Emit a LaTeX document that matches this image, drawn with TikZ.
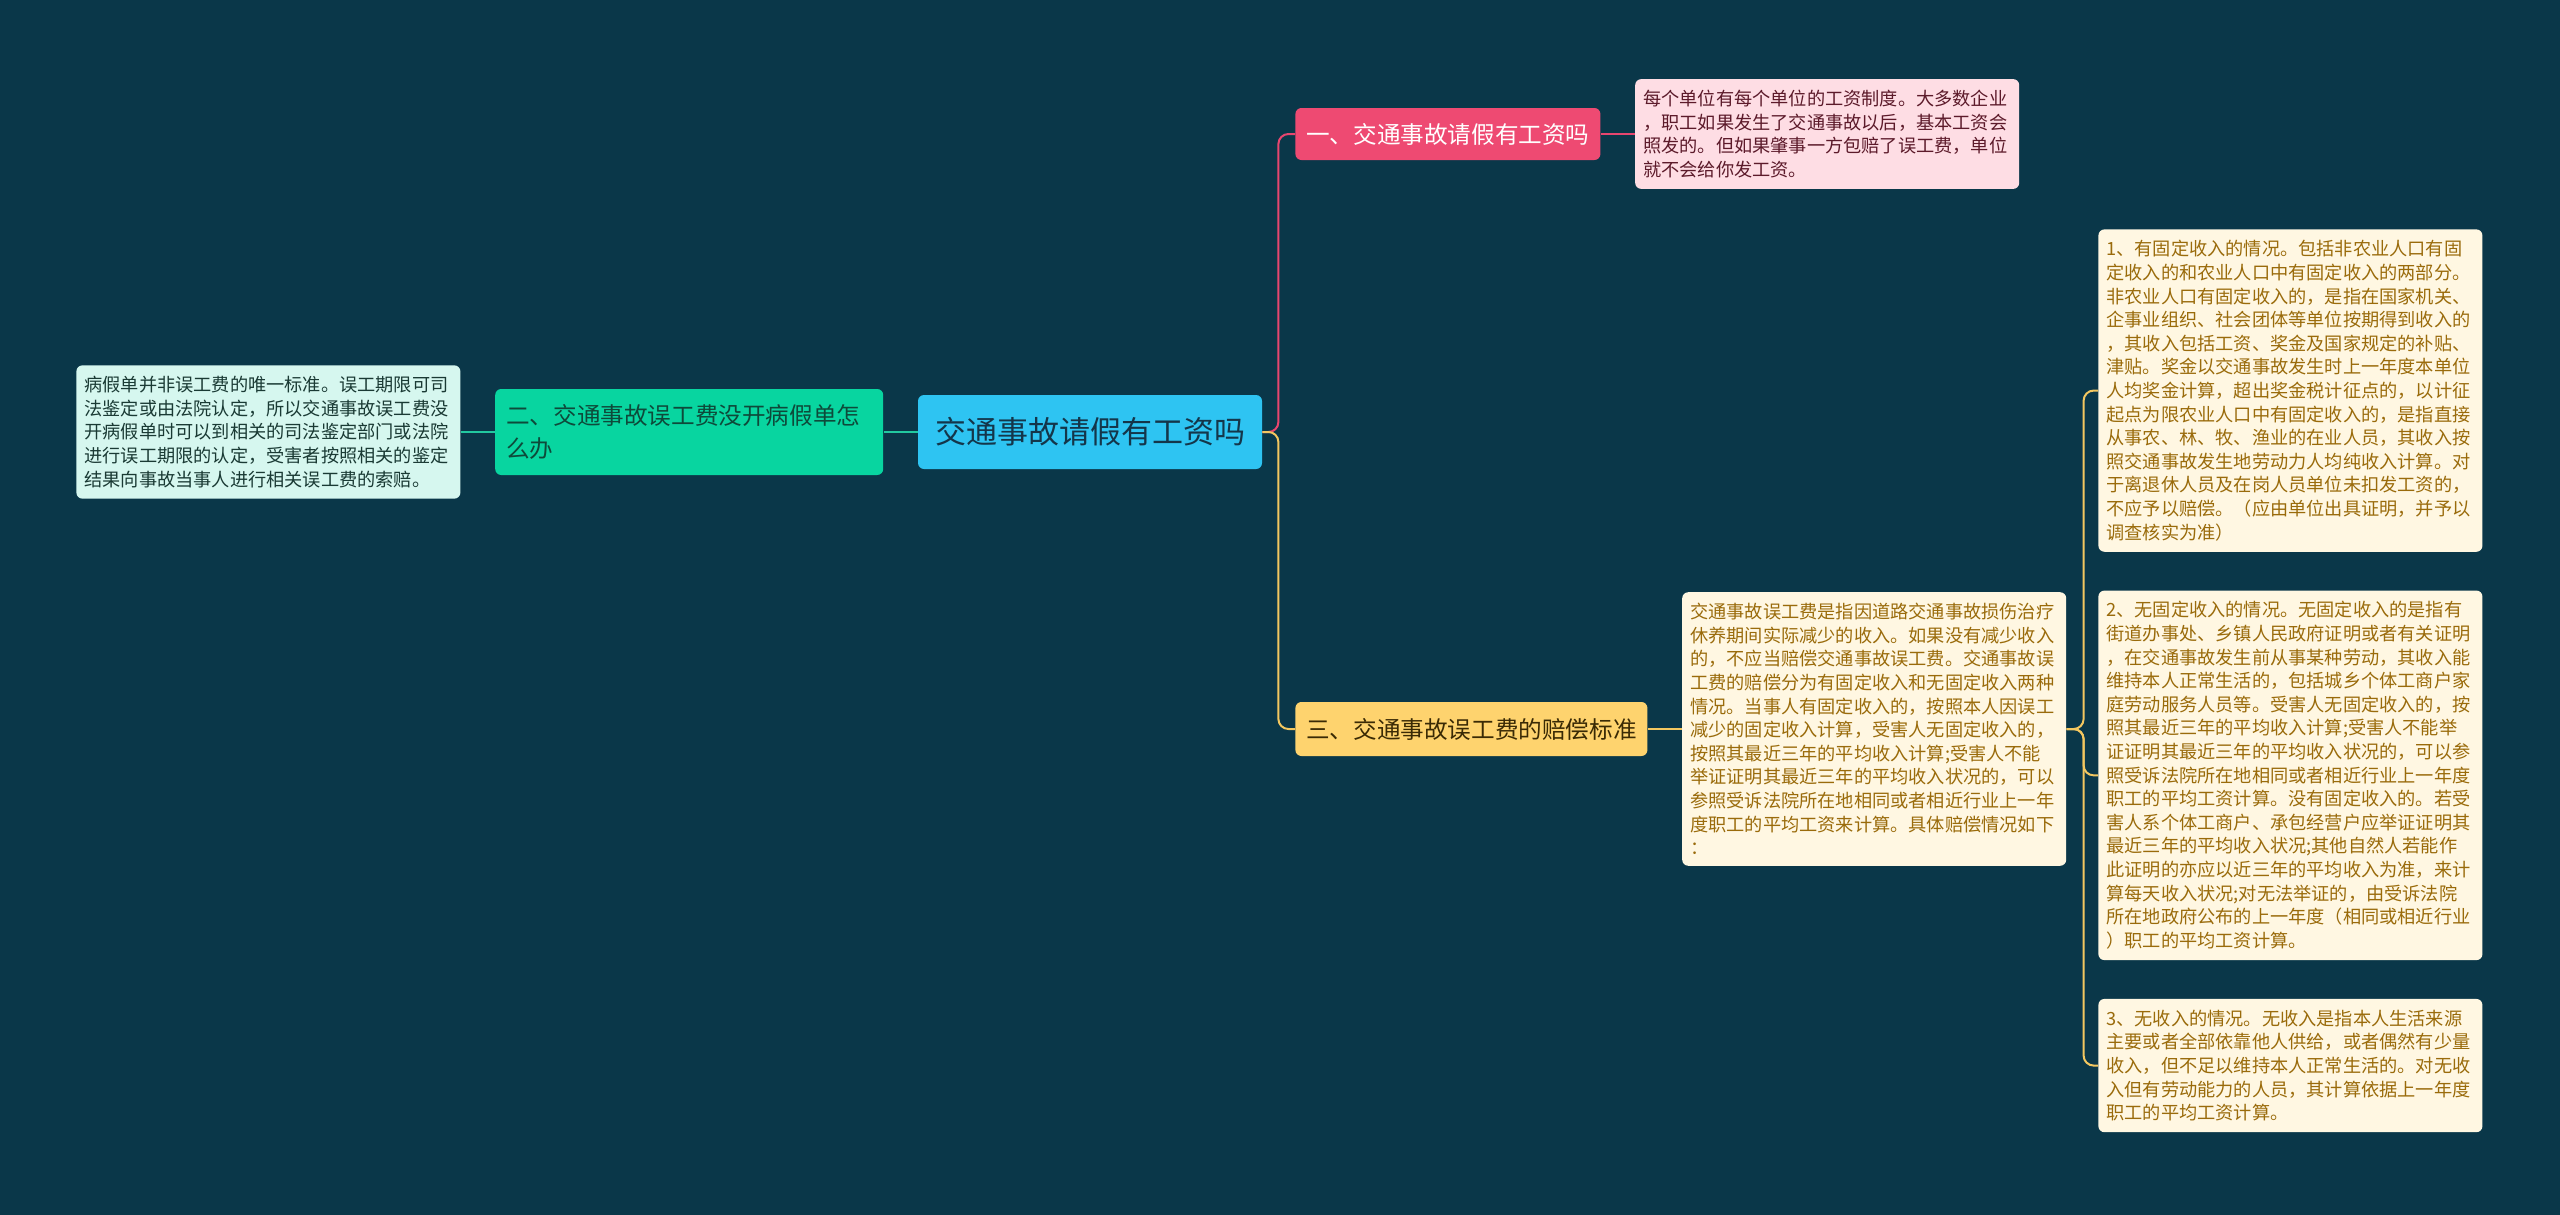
\documentclass[tikz,border=0pt]{standalone}
\usepackage{fontspec}
\setmainfont{Noto Sans CJK SC}
\usetikzlibrary{positioning}

\definecolor{bgblue}{HTML}{0A3749}
\definecolor{rootfill}{HTML}{2EC4F2}
\definecolor{roottext}{HTML}{14364A}
\definecolor{pinkfill}{HTML}{EE4A72}
\definecolor{pinkleaf}{HTML}{FEDDE4}
\definecolor{pinktext}{HTML}{5C1A2A}
\definecolor{pinkline}{HTML}{E8466F}
\definecolor{greenfill}{HTML}{08D5A0}
\definecolor{greentext}{HTML}{0E4A3A}
\definecolor{greenleaf}{HTML}{D6F7EF}
\definecolor{greenleaftext}{HTML}{1A3A34}
\definecolor{greenline}{HTML}{22C9A0}
\definecolor{yellowfill}{HTML}{FED36E}
\definecolor{yellowtext}{HTML}{3A2A05}
\definecolor{yellowleaf}{HTML}{FFF7E2}
\definecolor{yellowleaftext}{HTML}{9A6B0B}
\definecolor{yellowline}{HTML}{F3C760}

\begin{document}
\begin{tikzpicture}[
  x=0.5pt,y=-0.5pt,
  node distance=19pt and 17pt,
  rootbox/.style={rectangle,rounded corners=3pt,fill=rootfill,text=roottext,minimum width=172pt,minimum height=37pt,inner sep=0pt,font=\fontsize{15.5}{18}\selectfont},
  topic/.style={rectangle,rounded corners=3pt,minimum height=26pt,inner sep=0pt,font=\fontsize{11.8}{16.3}\selectfont},
  leaf/.style={rectangle,rounded corners=3pt,text width=184pt,inner xsep=4pt,inner ysep=5.5pt,align=left,font=\fontsize{9.1}{11.8}\selectfont},
  link/.style={line width=1pt,rounded corners=5pt}
]

% Background
\fill[bgblue] (0,0) rectangle (2560,1215);

% Root
\node[rootbox] (root) at (1090,432) {交通事故请假有工资吗};

% Topics
\node[topic,fill=pinkfill,text=white,minimum width=152.5pt,anchor=west] (t1) at (1295,134) {一、交通事故请假有工资吗};
\node[topic,fill=greenfill,text=greentext,minimum width=194pt,minimum height=43pt,text width=183pt,align=left,left=of root] (t2) {二、交通事故误工费没开病假单怎\\么办};
\node[topic,fill=yellowfill,text=yellowtext,minimum width=176pt,minimum height=27pt,anchor=west] (t3) at (1295,729) {三、交通事故误工费的赔偿标准};

% Leaves
\node[leaf,fill=pinkleaf,text=pinktext,right=of t1] (leaf1) {每个单位有每个单位的工资制度。大多数企业\\，职工如果发生了交通事故以后，基本工资会\\照发的。但如果肇事一方包赔了误工费，单位\\就不会给你发工资。};
\node[leaf,fill=greenleaf,text=greenleaftext,left=of t2] (leaf2) {病假单并非误工费的唯一标准。误工期限可司\\法鉴定或由法院认定，所以交通事故误工费没\\开病假单时可以到相关的司法鉴定部门或法院\\进行误工期限的认定，受害者按照相关的鉴定\\结果向事故当事人进行相关误工费的索赔。};
\node[leaf,fill=yellowleaf,text=yellowleaftext,right=of t3] (leaf3) {交通事故误工费是指因道路交通事故损伤治疗\\休养期间实际减少的收入。如果没有减少收入\\的，不应当赔偿交通事故误工费。交通事故误\\工费的赔偿分为有固定收入和无固定收入两种\\情况。当事人有固定收入的，按照本人因误工\\减少的固定收入计算，受害人无固定收入的，\\按照其最近三年的平均收入计算;受害人不能\\举证证明其最近三年的平均收入状况的，可以\\参照受诉法院所在地相同或者相近行业上一年\\度职工的平均工资来计算。具体赔偿情况如下\\：};

% Cases
\node[leaf,fill=yellowleaf,text=yellowleaftext,anchor=north west] (case1) at (2098,229) {1、有固定收入的情况。包括非农业人口有固\\定收入的和农业人口中有固定收入的两部分。\\非农业人口有固定收入的，是指在国家机关、\\企事业组织、社会团体等单位按期得到收入的\\，其收入包括工资、奖金及国家规定的补贴、\\津贴。奖金以交通事故发生时上一年度本单位\\人均奖金计算，超出奖金税计征点的，以计征\\起点为限农业人口中有固定收入的，是指直接\\从事农、林、牧、渔业的在业人员，其收入按\\照交通事故发生地劳动力人均纯收入计算。对\\于离退休人员及在岗人员单位未扣发工资的，\\不应予以赔偿。（应由单位出具证明，并予以\\调查核实为准）};
\node[leaf,fill=yellowleaf,text=yellowleaftext,below=of case1] (case2) {2、无固定收入的情况。无固定收入的是指有\\街道办事处、乡镇人民政府证明或者有关证明\\，在交通事故发生前从事某种劳动，其收入能\\维持本人正常生活的，包括城乡个体工商户家\\庭劳动服务人员等。受害人无固定收入的，按\\照其最近三年的平均收入计算;受害人不能举\\证证明其最近三年的平均收入状况的，可以参\\照受诉法院所在地相同或者相近行业上一年度\\职工的平均工资计算。没有固定收入的。若受\\害人系个体工商户、承包经营户应举证证明其\\最近三年的平均收入状况;其他自然人若能作\\此证明的亦应以近三年的平均收入为准，来计\\算每天收入状况;对无法举证的，由受诉法院\\所在地政府公布的上一年度（相同或相近行业\\）职工的平均工资计算。};
\node[leaf,fill=yellowleaf,text=yellowleaftext,below=of case2] (case3) {3、无收入的情况。无收入是指本人生活来源\\主要或者全部依靠他人供给，或者偶然有少量\\收入，但不足以维持本人正常生活的。对无收\\入但有劳动能力的人员，其计算依据上一年度\\职工的平均工资计算。};

% Links
\coordinate (fork) at ([xshift=8pt]root.east);
\coordinate (fork3) at ([xshift=8.5pt]leaf3.east);
\draw[link,greenline] (root.west) -- (t2.east);
\draw[link,greenline] (t2.west) -- (leaf2.east);
\draw[link,pinkline] (root.east) -- (fork) |- (t1.west);
\draw[link,pinkline] (t1.east) -- (leaf1.west);
\draw[link,yellowline] (root.east) -- (fork) |- (t3.west);
\draw[link,yellowline] (t3.east) -- (leaf3.west);
\foreach \c in {case1,case2,case3}
  \draw[link,yellowline] (leaf3.east) -- (fork3) |- (\c.west);

\end{tikzpicture}
\end{document}
